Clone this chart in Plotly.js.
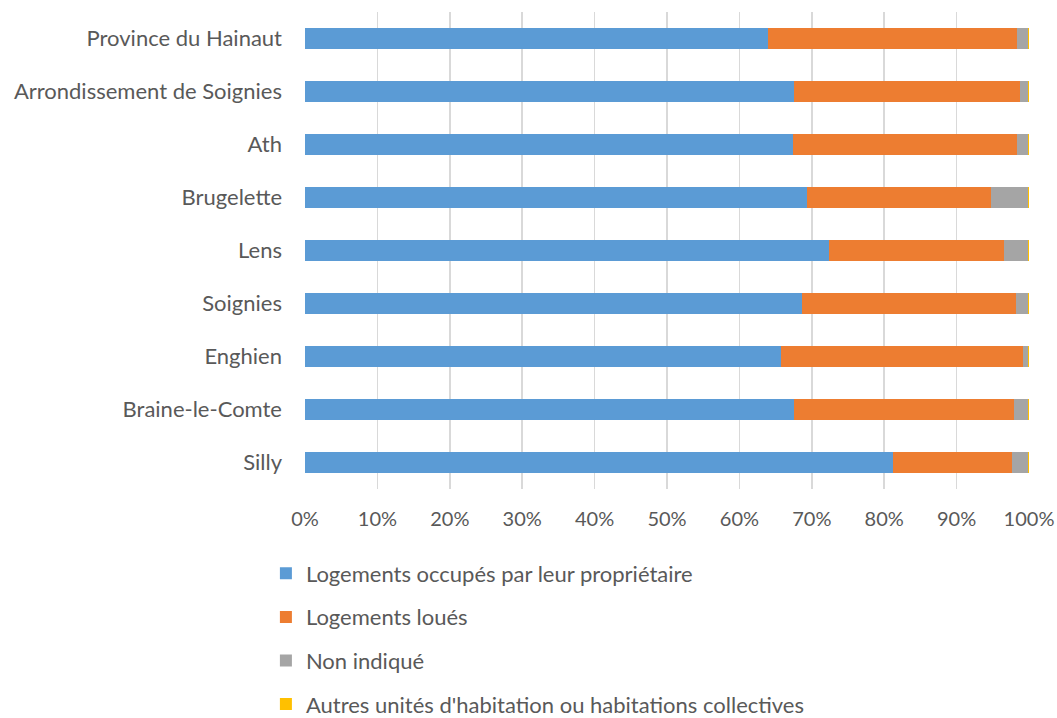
<!DOCTYPE html>
<html><head><meta charset="utf-8">
<script src="https://cdn.plot.ly/plotly-3.0.1.min.js"></script>
<style>body{margin:0;background:#fff}#c{width:1057px;height:718px}</style>
</head><body><div id="c"></div>
<script>
const categories = ["Province du Hainaut","Arrondissement de Soignies","Ath","Brugelette","Lens","Soignies","Enghien","Braine-le-Comte","Silly"];
const proprietaires = [63.9, 67.5, 67.4, 69.3, 72.4, 68.6, 65.7, 67.6, 81.2];
const loues =         [34.5, 31.3, 31.0, 25.5, 24.2, 29.6, 33.5, 30.3, 16.5];
const nonIndique =    [1.4, 1.0, 1.4, 5.1, 3.3, 1.6, 0.7, 1.9, 2.1];
const autres =        [0.2, 0.2, 0.2, 0.1, 0.1, 0.2, 0.1, 0.2, 0.2];
const seriesNames = ["Logements occupés par leur propriétaire","Logements loués","Non indiqué","Autres unités d'habitation ou habitations collectives"];
const tickVals = [0,10,20,30,40,50,60,70,80,90,100];
const tickText = ["0%","10%","20%","30%","40%","50%","60%","70%","80%","90%","100%"];

const colors = ["#5b9bd5","#ed7d31","#a5a5a5","#ffc000"];
const data = [proprietaires, loues, nonIndique, autres].map((v,i)=>({
  type:'bar', orientation:'h', y:categories, x:v, name:seriesNames[i],
  legendgroup:'g'+i, marker:{color:colors[i], line:{width:0}}, hoverinfo:'x+name'
}));
const fam = 'Lato, "Open Sans", sans-serif';
Plotly.newPlot('c', data, {
  width:1057, height:718,
  margin:{l:305, r:28, t:12, b:229, autoexpand:false},
  barmode:'stack', barnorm:'percent', bargap:0.6,
  paper_bgcolor:'#fff', plot_bgcolor:'#fff',
  font:{family:fam, color:'#595959'},
  xaxis:{range:[0,100], tickvals:tickVals, ticktext:tickText, showgrid:true, gridcolor:'#d9d9d9', gridwidth:1.5,
    zeroline:false, showline:false, tickfont:{size:20, family:fam, color:'#595959'}, ticklabelstandoff:16, fixedrange:true},
  yaxis:{autorange:'reversed', showgrid:false, zeroline:false, showline:false,
    tickfont:{size:22, family:fam, color:'#595959'}, ticklabelstandoff:22},
  showlegend:true,
  legend:{orientation:'v', xref:'paper', x:-0.054, xanchor:'left', yref:'container', y:0.2305, yanchor:'top', traceorder:'grouped',
    tracegroupgap:12, font:{size:22, family:fam, color:'#595959'}, itemwidth:30}
}, {displayModeBar:false, staticPlot:true});
</script></body></html>
